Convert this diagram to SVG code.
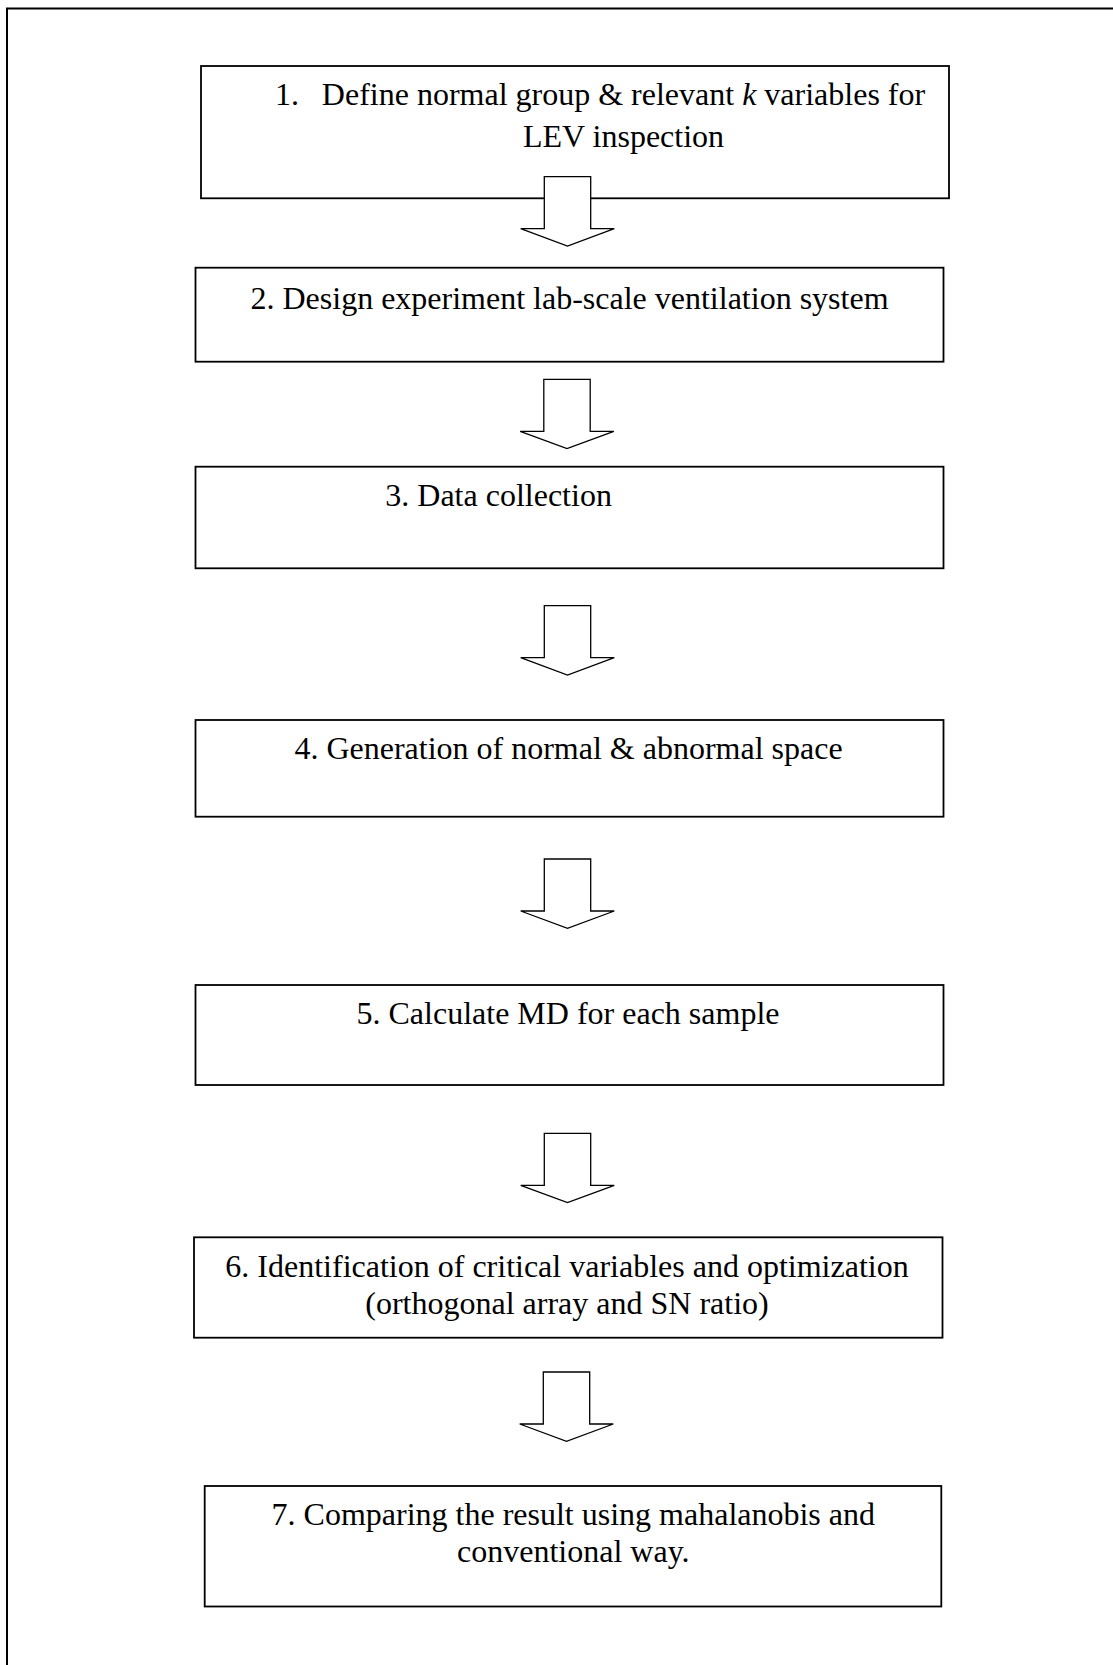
<svg xmlns="http://www.w3.org/2000/svg" xmlns:xlink="http://www.w3.org/1999/xlink" width="1113" height="1665" viewBox="0 0 1113 1665">
<style>
.frame{fill:none;stroke:#000;stroke-width:2}
.box{fill:#fff;stroke:#000;stroke-width:1.8}
.arr{fill:#fff;stroke:#000;stroke-width:1.3;stroke-linejoin:miter}
.t{font-family:"Liberation Serif","Times New Roman",serif;font-size:32px;fill:#000}
.m{text-anchor:middle}
</style>
<defs>
<path id="arrow" d="M-23.2,0 H23.2 V52 H46.8 L0,69.3 L-46.8,52 H-23.2 Z"/>
</defs>
<rect width="1113" height="1665" fill="#fff"/>
<rect class="frame" x="7" y="8.5" width="1112" height="1662"/>
<g id="n1">
<rect class="box" x="201" y="66" width="748" height="132.3"/>
<text class="t" x="275" y="105.3">1.</text>
<text class="t m" x="623.5" y="105.3">Define normal group &amp; relevant <tspan font-style="italic">k</tspan> variables for</text>
<text class="t m" x="623.5" y="146.7">LEV inspection</text>
</g>
<g id="n2">
<rect class="box" x="195.5" y="267.7" width="748" height="94"/>
<text class="t m" x="569.5" y="309">2. Design experiment lab-scale ventilation system</text>
</g>
<g id="n3">
<rect class="box" x="195.5" y="466.7" width="748" height="101.6"/>
<text class="t" x="385.3" y="505.5">3. Data collection</text>
</g>
<g id="n4">
<rect class="box" x="195.5" y="720" width="748" height="96.7"/>
<text class="t m" x="568.5" y="759.3">4. Generation of normal &amp; abnormal space</text>
</g>
<g id="n5">
<rect class="box" x="195.5" y="985" width="748" height="100"/>
<text class="t m" x="568" y="1024">5. Calculate MD for each sample</text>
</g>
<g id="n6">
<rect class="box" x="194" y="1237.3" width="748.5" height="100.4"/>
<text class="t m" x="567" y="1277">6. Identification of critical variables and optimization</text>
<text class="t m" x="567" y="1313.5">(orthogonal array and SN ratio)</text>
</g>
<g id="n7">
<rect class="box" x="204.7" y="1486" width="736.6" height="120.5"/>
<text class="t m" x="573.3" y="1525">7. Comparing the result using mahalanobis and</text>
<text class="t m" x="573.3" y="1561.7">conventional way.</text>
</g>
<g id="connectors">
<use href="#arrow" class="arr" x="567.5" y="176.7"/>
<use href="#arrow" class="arr" x="567" y="379.3"/>
<use href="#arrow" class="arr" x="567.5" y="605.7"/>
<use href="#arrow" class="arr" x="567.5" y="859"/>
<use href="#arrow" class="arr" x="567.5" y="1133.3"/>
<use href="#arrow" class="arr" x="566.5" y="1372"/>
</g>
</svg>
